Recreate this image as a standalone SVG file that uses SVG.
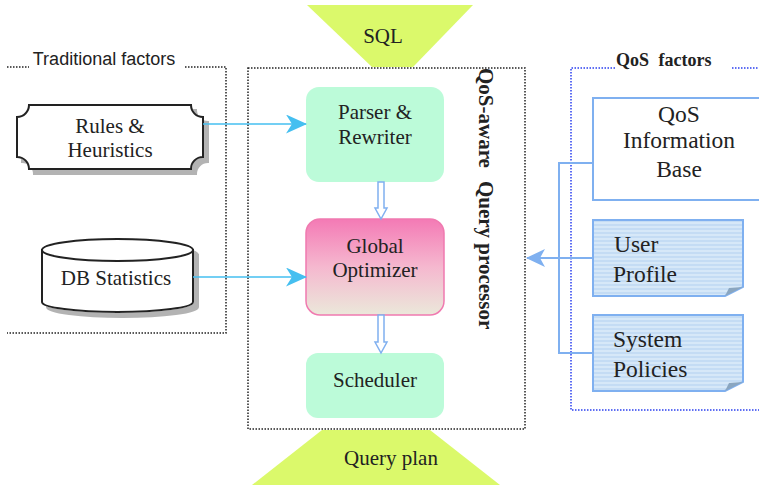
<svg xmlns="http://www.w3.org/2000/svg" width="759" height="485" viewBox="0 0 759 485">
<style>
.t{font-family:'Liberation Serif','Times New Roman',serif;font-size:21px;fill:#222;text-anchor:middle}
.tr{font-family:'Liberation Serif','Times New Roman',serif;font-size:23.5px;fill:#222}
.dot{fill:none;stroke:#222;stroke-width:1.5;stroke-dasharray:1.5 1.5}
.dotb{fill:none;stroke:#2a3ff0;stroke-width:1.5;stroke-dasharray:1.5 1.5}
.green{fill:#bcfbd9}
.c{fill:none;stroke:#45bff0;stroke-width:1.6}
.cb{fill:none;stroke:#7fb0f0;stroke-width:2}
.hollow{fill:#fff;stroke:#80b0f0;stroke-width:1.5}
.note{fill:url(#stripes);stroke:#7fb0f0;stroke-width:2}
.fold{fill:#8aa6c0}
</style>
<defs>
<marker id="ah" markerWidth="21" markerHeight="19" refX="20" refY="9.5" orient="auto" markerUnits="userSpaceOnUse">
<path d="M0,0 L21,9.5 L0,19 L6,9.5 Z" fill="#45bff0"/>
</marker>
<marker id="ahb" markerWidth="19" markerHeight="18" refX="18" refY="9" orient="auto" markerUnits="userSpaceOnUse">
<path d="M0,0 L19,9 L0,18 L5,9 Z" fill="#7fb0f0"/>
</marker>
<linearGradient id="pink" x1="0" y1="0" x2="0" y2="1">
<stop offset="0" stop-color="#f47ab5"/>
<stop offset="0.5" stop-color="#f5b8cf"/>
<stop offset="1" stop-color="#ebe8da"/>
</linearGradient>
<pattern id="stripes" width="6" height="4" patternUnits="userSpaceOnUse">
<rect width="6" height="4" fill="#d6e8f8"/>
<rect width="6" height="2" fill="#c4dcf4"/>
</pattern>
<filter id="sh" x="-10%" y="-10%" width="130%" height="140%">
<feOffset dx="5" dy="5" in="SourceAlpha"/>
<feColorMatrix values="0 0 0 0 0.45 0 0 0 0 0.45 0 0 0 0 0.45 0 0 0 1 0"/>
<feMerge><feMergeNode/><feMergeNode in="SourceGraphic"/></feMerge>
</filter>
</defs>

<g id="traditional-factors">
<path class="dot" d="M7,67 H29 M185,67 H226 V333 H7"/>
<text x="104" y="65" style="font-family:'Liberation Sans',Arial,sans-serif;font-size:18px;fill:#222;text-anchor:middle">Traditional factors</text>
</g>

<g id="qos-factors">
<path class="dotb" d="M615,68 H571 V410 H759 M732,68 H759"/>
<text x="616" y="66" style="font-family:'Liberation Serif',serif;font-size:18px;font-weight:bold;fill:#222;word-spacing:5px">QoS factors</text>
</g>

<g id="qos-processor">
<rect class="dot" x="248" y="68" width="277" height="361"/>
<text transform="translate(479,68) rotate(90)" style="font-family:'Liberation Serif',serif;font-size:21px;font-weight:bold;fill:#222">QoS-aware<tspan dx="13">Query processor</tspan></text>
</g>

<g id="sql">
<polygon points="307,5 473,5 413,67 372,67" fill="#dbf96b"/>
<text class="t" x="383" y="43">SQL</text>
</g>

<g id="query-plan">
<polygon points="322,430 430,430 500,485 252,485" fill="#dbf96b"/>
<text class="t" x="391" y="465">Query plan</text>
</g>

<g id="rules">
<path filter="url(#sh)" d="M29,105 H191 A12,12 0 0 0 203,117 V157 A12,12 0 0 0 191,169 H29 A12,12 0 0 0 17,157 V117 A12,12 0 0 0 29,105 Z" fill="#fff" stroke="#222" stroke-width="2"/>
<text class="t" x="110" y="133">Rules &amp;</text>
<text class="t" x="110" y="157">Heuristics</text>
</g>

<g id="db-statistics">
<g filter="url(#sh)">
<path d="M42,250 V302 A75.5,10 0 0 0 193,302 V250 Z" fill="#fff" stroke="#222" stroke-width="2"/>
<ellipse cx="117.5" cy="250" rx="75.5" ry="11" fill="#fff" stroke="#222" stroke-width="2"/>
</g>
<text class="t" x="116" y="285">DB Statistics</text>
</g>

<g id="parser">
<rect class="green" x="306" y="87" width="138" height="95" rx="13"/>
<text class="t" x="375" y="119">Parser &amp;</text>
<text class="t" x="375" y="144">Rewriter</text>
</g>

<g id="optimizer">
<rect x="306" y="219" width="138" height="96" rx="14" fill="url(#pink)" stroke="#f07ab0" stroke-width="1.5"/>
<text class="t" x="375" y="253">Global</text>
<text class="t" x="375" y="277">Optimizer</text>
</g>

<g id="scheduler">
<rect class="green" x="306" y="353" width="138" height="65" rx="12"/>
<text class="t" x="375" y="387">Scheduler</text>
</g>

<g id="qos-info-base">
<rect x="593" y="98" width="175" height="102" fill="#fff" stroke="#7fb0f0" stroke-width="2"/>
<text class="tr" x="679" y="122" text-anchor="middle">QoS</text>
<text class="tr" x="679" y="148" text-anchor="middle">Information</text>
<text class="tr" x="679" y="177" text-anchor="middle">Base</text>
</g>

<g id="user-profile">
<path class="note" d="M593,220 H743 V287 L725,296 H593 Z"/>
<path class="fold" d="M725,296 L729,288 L743,287 Z"/>
<text class="tr" x="614" y="252">User</text>
<text class="tr" x="613" y="282">Profile</text>
</g>

<g id="system-policies">
<path class="note" d="M593,315 H743 V382 L725,391 H593 Z"/>
<path class="fold" d="M725,391 L729,383 L743,382 Z"/>
<text class="tr" x="613" y="347">System</text>
<text class="tr" x="613" y="377">Policies</text>
</g>

<g id="connectors">
<line class="c" x1="203" y1="124" x2="306" y2="124" marker-end="url(#ah)"/>
<line class="c" x1="193" y1="277" x2="306" y2="277" marker-end="url(#ah)"/>
<path class="hollow" d="M378,182 V208 H375 L381,219 L387,208 H384 V182 Z"/>
<path class="hollow" d="M378,315 V342 H375 L381,353 L387,342 H384 V315 Z"/>
<path class="cb" d="M593,163 H559 V353 H593"/>
<line class="cb" x1="593" y1="258" x2="527" y2="258" marker-end="url(#ahb)"/>
</g>
</svg>
